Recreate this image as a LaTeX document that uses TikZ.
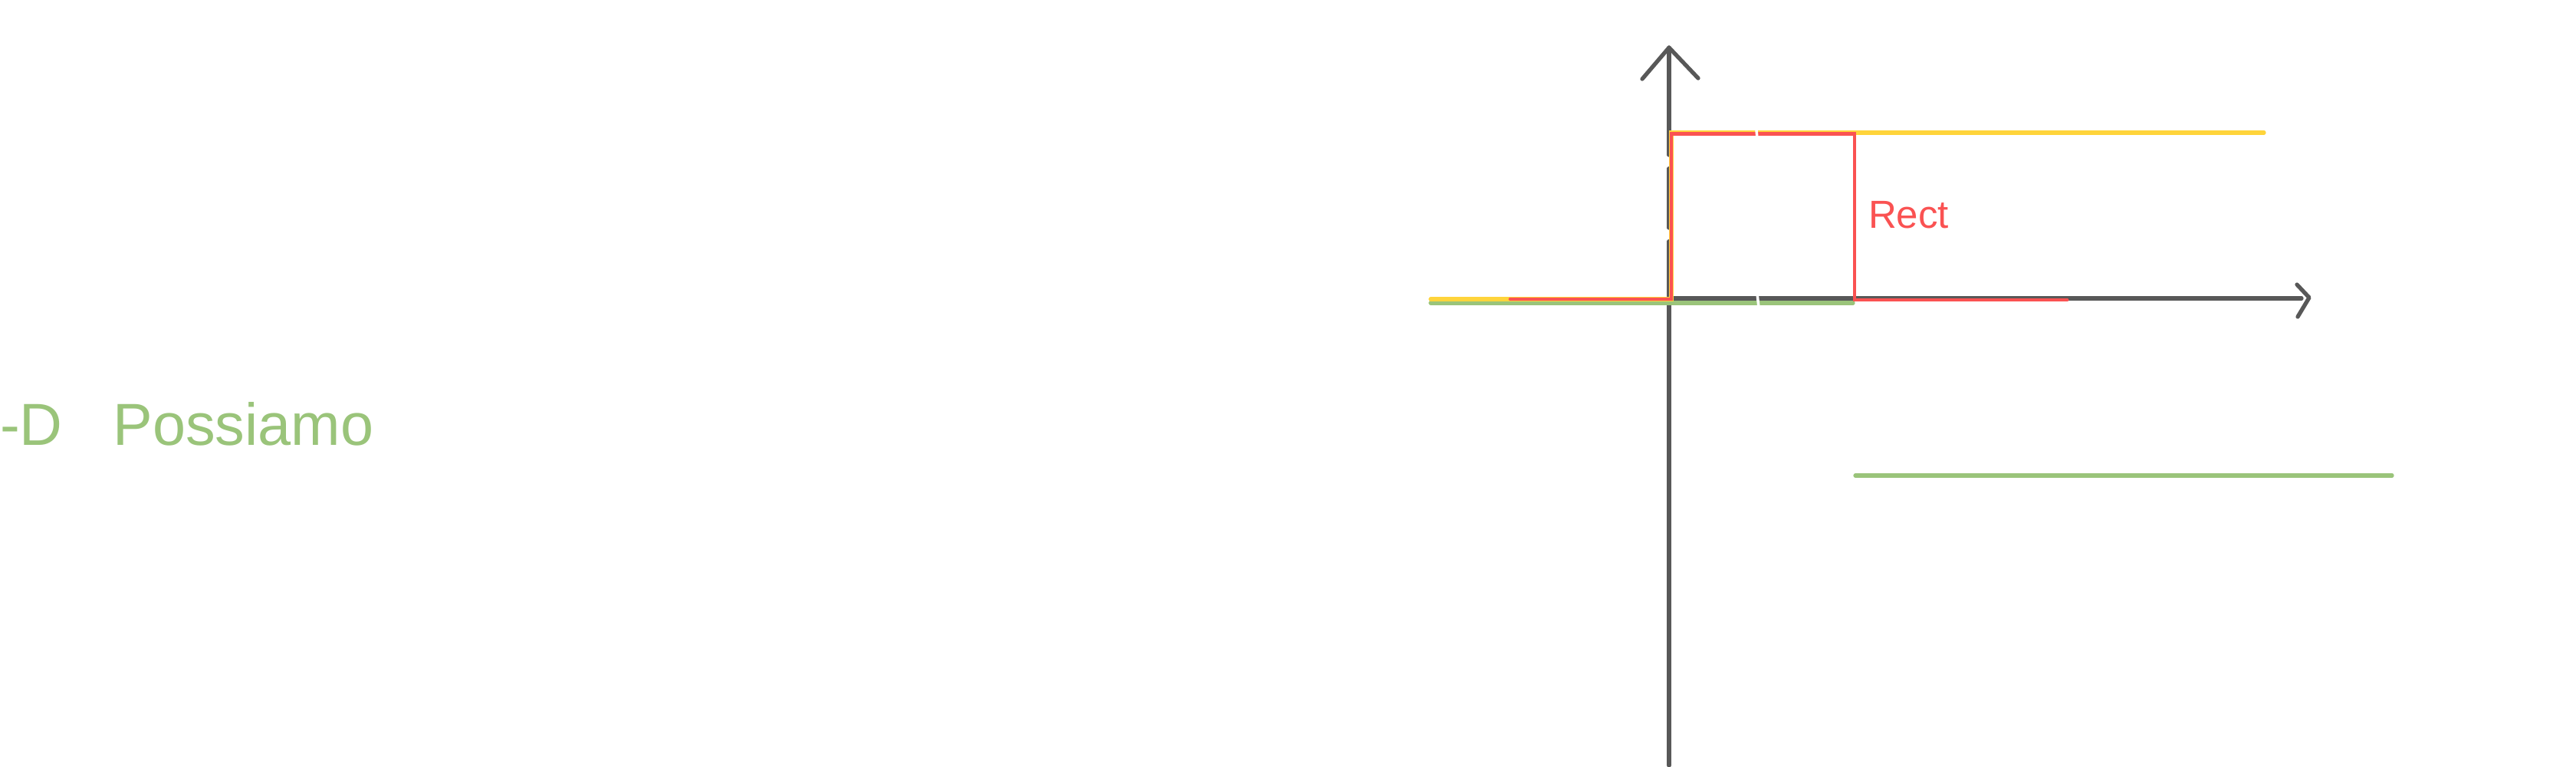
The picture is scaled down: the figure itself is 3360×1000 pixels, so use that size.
\documentclass[tikz,border=0pt]{standalone}
\usepackage{fontspec}
\setmainfont{Liberation Sans}
\definecolor{axisgray}{RGB}{88,88,88}
\definecolor{sred}{RGB}{250,82,82}
\definecolor{syellow}{RGB}{255,212,59}
\definecolor{sgreen}{RGB}{154,196,122}
\tikzset{
  axisline/.style={draw=axisgray, line width=1.5pt, line cap=round, line join=round},
  redline/.style={draw=sred, line width=1.4pt, line cap=round, line join=miter},
  yellowline/.style={draw=syellow, line width=1.5pt, line cap=round},
  greenline/.style={draw=sgreen, line width=1.5pt, line cap=round},
  gapline/.style={draw=white, line width=1pt, line cap=round},
  hand/.style={inner sep=0pt, outer sep=0pt}
}
\begin{document}
\begin{tikzpicture}[x=0.01cm,y=-0.01cm]
\path[use as bounding box, fill=white] (0,0) rectangle (3360,1000);

% key points
\coordinate (ybot) at (2177,998);
\coordinate (ytip) at (2177,62);
\coordinate (yw1) at (2142,103);
\coordinate (yw2) at (2215,102);
\coordinate (xorg) at (2177,389);
\coordinate (xend) at (3002,389);
\coordinate (xtip) at (3012,388);
\coordinate (xw1) at (2996,371);
\coordinate (xw2) at (2997,413);

% axes
\draw[axisline] (ybot) -- (2177,392);
\draw[axisline, dash pattern=on 22pt off 5pt] (2177,392) -- (2177,176);
\draw[axisline] (2177,176) -- (ytip);
\draw[axisline] (yw1) -- (ytip) -- (yw2);
\draw[axisline] (xorg) -- (xend);
\draw[axisline] (xw1) -- (xtip) -- (xw2);

% green step
\coordinate (g1) at (1866,395);
\coordinate (g2) at (2417,395);
\coordinate (g3) at (2420,620);
\coordinate (g4) at (3120,620);
\draw[greenline] (g1) -- (g2);
\draw[greenline] (g3) -- (g4);

% yellow step
\coordinate (y1) at (1866,390);
\coordinate (y2) at (2180,390);
\coordinate (y3) at (2180,173);
\coordinate (y4) at (2953,173);
\draw[yellowline] (y1) -- (y2) -- (y3) -- (y4);

% red rectangle pulse
\coordinate (r1) at (1970,390);
\coordinate (r2) at (2180,390);
\coordinate (r3) at (2180,174.5);
\coordinate (r4) at (2419,174.5);
\coordinate (r5) at (2419,391);
\coordinate (r6) at (2696,391);
\draw[redline] (r1) -- (r2) -- (r3) -- (r4) -- (r5) -- (r6);

% small white gaps
\draw[gapline] (2291,170) -- (2292,180);
\draw[gapline] (2292,383) -- (2294,401);

% texts
\node[hand, anchor=base west, text=sred, font=\fontsize{14.5}{16}\selectfont] (rect) at (2437,297) {Rect};
\node[hand, anchor=base west, text=sgreen, font=\fontsize{22}{26}\selectfont] (possiamo) at (0,580) {-D\hspace{18.8pt}Possiamo};
\end{tikzpicture}
\end{document}
